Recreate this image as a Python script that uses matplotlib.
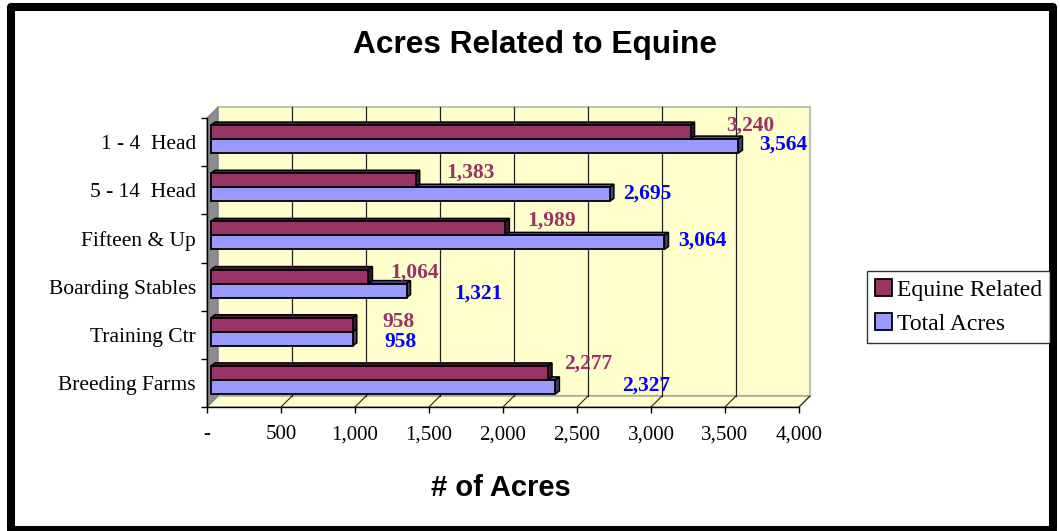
import matplotlib
matplotlib.use("Agg")
import matplotlib.pyplot as plt
from matplotlib.patches import Polygon, Rectangle, Patch
import numpy as np

categories = ["1 - 4  Head", "5 - 14  Head", "Fifteen & Up",
              "Boarding Stables", "Training Ctr", "Breeding Farms"]
equine_related = [3240, 1383, 1989, 1064, 958, 2277]
total_acres = [3564, 2695, 3064, 1321, 958, 2327]
x_ticks = [0, 500, 1000, 1500, 2000, 2500, 3000, 3500, 4000]
x_tick_labels = ["-", "500", "1,000", "1,500", "2,000", "2,500", "3,000", "3,500", "4,000"]

# where Excel dropped the value labels (pixels from bar end / category centre)
eq_lab_dx = [60, 55, 46, 46, 46, 40]
eq_lab_dy = [-16, -18, -18, -14, -13, -19]
tot_lab_dx = [45, 37, 38, 72, 48, 91]
tot_lab_dy = [3, 3, 2, 7, 7, 3]

MAROON = "#993366"
PERI = "#9999FF"
WALL = "#FFFFCC"
SERIF = "Liberation Serif"
SANS = "Liberation Sans"

W, H = 1060, 531
fig = plt.figure(figsize=(W / 100, H / 100), dpi=100)

# front face of the plot box, in pixels
x0, x1, y0, y1 = 207, 799, 118, 407
ax = fig.add_axes([x0 / W, (H - y1) / H, (x1 - x0) / W, (y1 - y0) / H])
ax.set_xlim(0, 4000)
ax.set_ylim(len(categories) - 0.5, -0.5)
ax.patch.set_visible(False)

sx = 4000 / (x1 - x0)            # data per pixel along x
sy = len(categories) / (y1 - y0)  # data per pixel along y
ymin, ymax = -0.5, len(categories) - 0.5

# 3d box: back wall, floor, left wall
Dx, Dy = 11 * sx, 11 * sy
ax.add_patch(Rectangle((Dx, ymin - Dy), 4000, ymax - ymin, facecolor=WALL,
                       edgecolor="#C0C0C0", lw=1.5, zorder=0, clip_on=False))
ax.add_patch(Polygon([(0, ymax), (4000, ymax), (4000 + Dx, ymax - Dy), (Dx, ymax - Dy)],
                     closed=True, facecolor=WALL, edgecolor="#A0A0A0", lw=1, zorder=0.5, clip_on=False))
ax.add_patch(Polygon([(0, ymin), (0, ymax), (Dx, ymax - Dy), (Dx, ymin - Dy)],
                     closed=True, facecolor="#8C8C8C", edgecolor="#808080", lw=0.8, zorder=0.5, clip_on=False))
for t in x_ticks[1:-1]:
    ax.plot([t + Dx, t + Dx], [ymin - Dy, ymax - Dy], color="#222222", lw=0.9, zorder=0.6, clip_on=False)
for t in x_ticks[1:]:
    ax.plot([t, t + Dx], [ymax, ymax - Dy], color="#222222", lw=0.8, zorder=0.6, clip_on=False)

# bars with a little depth
bh = 14 * sy
left = 4 * sx
lift = 3 * sy
dx, dy = 4 * sx, 3 * sy


def shade(c, f):
    r, g, b = matplotlib.colors.to_rgb(c)
    return (r * f, g * f, b * f)


def bar3d(yc, v, color, z):
    top, bot = yc - bh / 2, yc + bh / 2
    end = left + v
    ax.add_patch(Polygon([(left, top), (end, top), (end + dx, top - dy), (left + dx, top - dy)],
                         closed=True, facecolor=shade(color, 0.55), edgecolor="black", lw=1.1,
                         zorder=z, clip_on=False))
    ax.add_patch(Polygon([(end, top), (end, bot), (end + dx, bot - dy), (end + dx, top - dy)],
                         closed=True, facecolor=shade(color, 0.45), edgecolor="black", lw=1.1,
                         zorder=z, clip_on=False))
    ax.barh(yc, v, height=bh, left=left, color=color, edgecolor="black", lw=1.3,
            zorder=z + 0.1, clip_on=False)


ypos = np.arange(len(categories))
for i in ypos:
    bar3d(i + bh / 2 - lift, total_acres[i], PERI, 2 + i * 0.01)
    bar3d(i - bh / 2 - lift, equine_related[i], MAROON, 3 + i * 0.01)

# value labels
for i in ypos:
    ax.text(left + equine_related[i] + eq_lab_dx[i] * sx, i + eq_lab_dy[i] * sy,
            f"{equine_related[i]:,}", color=MAROON, fontsize=15.5, fontweight="bold",
            family=SERIF, ha="center", va="center", zorder=5, clip_on=False)
    ax.text(left + total_acres[i] + tot_lab_dx[i] * sx, i + tot_lab_dy[i] * sy,
            f"{total_acres[i]:,}", color="#0000FF", fontsize=15.5, fontweight="bold",
            family=SERIF, ha="center", va="center", zorder=5, clip_on=False)

# axes
for s in ["top", "right"]:
    ax.spines[s].set_visible(False)
for s in ["left", "bottom"]:
    ax.spines[s].set_color("black")
    ax.spines[s].set_linewidth(1)
    ax.spines[s].set_zorder(1)

ax.set_xticks(x_ticks)
ax.set_xticklabels(x_tick_labels, family=SERIF, fontsize=15)
ax.tick_params(axis="x", direction="out", length=4, width=1, pad=9)
ax.set_yticks(ypos)
ax.set_yticklabels(categories, family=SERIF, fontsize=15.5)
ax.set_yticks(np.arange(len(categories) + 1) - 0.5, minor=True)
ax.tick_params(axis="y", which="major", length=0, pad=8)
ax.tick_params(axis="y", which="minor", direction="out", length=4.5, width=1)

# titles
fig.text(535 / W, 1 - 53 / H, "Acres Related to Equine", family=SANS, fontweight="bold",
         fontsize=22.8, ha="center", va="baseline")
fig.text(501 / W, 1 - 496 / H, "# of Acres", family=SANS, fontweight="bold",
         fontsize=21, ha="center", va="baseline")

# legend
handles = [Patch(facecolor=MAROON, edgecolor="black", lw=1.3, label="Equine Related"),
           Patch(facecolor=PERI, edgecolor="black", lw=1.3, label="Total Acres")]
leg = fig.legend(handles=handles, loc="center left", bbox_to_anchor=(867 / W, 1 - 307 / H),
                 prop={"family": SERIF, "size": 17}, frameon=True, fancybox=False,
                 edgecolor="black", borderpad=0.35, handlelength=0.7, handleheight=0.7,
                 handletextpad=0.2, labelspacing=0.55, borderaxespad=0)
leg.get_frame().set_linewidth(1)

# outer chart frame
fig.patches.append(Rectangle((11 / W, 1 - 530 / H), 1042 / W, 523 / H, transform=fig.transFigure,
                             fill=False, edgecolor="black", lw=5.8, joinstyle="round"))

fig.savefig("out.png", dpi=100, facecolor="white")
